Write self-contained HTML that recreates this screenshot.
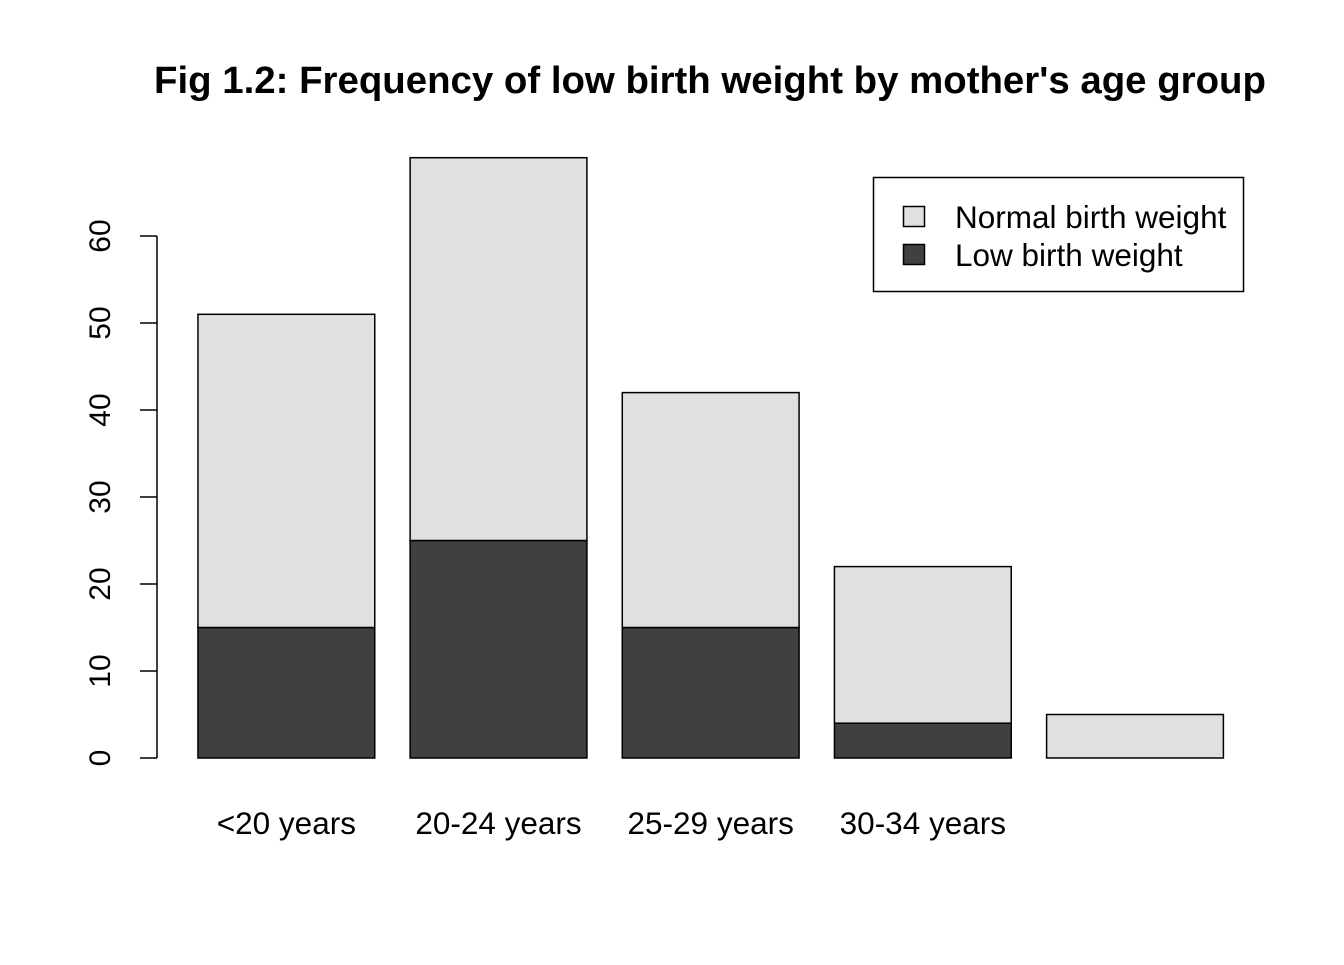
<!DOCTYPE html>
<html><head><meta charset="utf-8"><style>
body{margin:0;background:#fff}
svg text{font-family:"Liberation Sans",Arial,sans-serif;fill:#000}
</style></head><body>
<svg id="chart" width="1344" height="960">
<text x="710" y="93" text-anchor="middle" font-size="38.4" font-weight="bold">Fig 1.2: Frequency of low birth weight by mother's age group</text>
<g id="bars"></g>
<g id="yaxis"></g>
<g id="xlabels"></g>
<g>
<rect x="873.5" y="177.5" width="370" height="114" fill="#fff" stroke="#000" stroke-width="1.5"/>
<rect x="903.5" y="206.5" width="21" height="20" fill="#e0e0e0" stroke="#000" stroke-width="1.5"/>
<text x="955" y="228" font-size="31.5">Normal birth weight</text>
<rect x="903.5" y="244.5" width="21" height="20" fill="#404040" stroke="#000" stroke-width="1.5"/>
<text x="955" y="266" font-size="31.5">Low birth weight</text>
</g>
</svg>
<script>
const categories=["<20 years","20-24 years","25-29 years","30-34 years","35+ years"];
const lowValues=[15,25,15,4,0];
const normalValues=[36,44,27,18,5];
const showLabel=[true,true,true,true,false];
const yTicks=[0,10,20,30,40,50,60];

const NS="http://www.w3.org/2000/svg";
const y0=758,unit=8.7;
function yScale(v){return y0-v*unit;}
const bw=176.8,x0=162.6;
function xLeft(i){return x0+bw*(0.2+1.2*i);}
function mk(tag,attrs,parent){const e=document.createElementNS(NS,tag);for(const k in attrs)e.setAttribute(k,attrs[k]);parent.appendChild(e);return e;}
const bars=document.getElementById('bars');
categories.forEach((c,i)=>{
  const x=xLeft(i);
  const lowTop=yScale(lowValues[i]);
  const totTop=yScale(lowValues[i]+normalValues[i]);
  if(lowValues[i]>0){
    const r=mk('rect',{x:x,y:lowTop,width:bw,height:y0-lowTop,fill:'#404040',stroke:'#000','stroke-width':1.5},bars);
    
    
  }
  const r2=mk('rect',{x:x,y:totTop,width:bw,height:lowTop-totTop,fill:'#e0e0e0',stroke:'#000','stroke-width':1.5},bars);
  
  
  if(showLabel[i]){
    const t=mk('text',{x:x+bw/2,y:834,'text-anchor':'middle','font-size':31.5},document.getElementById('xlabels'));
    t.textContent=c;
    
    
  }
});
const ya=document.getElementById('yaxis');
mk('line',{x1:157,x2:157,y1:yScale(yTicks[0]),y2:yScale(yTicks[yTicks.length-1]),stroke:'#000','stroke-width':1.5},ya);
yTicks.forEach(v=>{
  const y=yScale(v);
  mk('line',{x1:140,x2:157,y1:y,y2:y,stroke:'#000','stroke-width':1.5},ya);
  const t=mk('text',{x:110,y:y,'text-anchor':'middle','font-size':30,transform:'rotate(-90 110 '+y+')'},ya);
  t.textContent=v;
  
  
});
</script>
</body></html>
